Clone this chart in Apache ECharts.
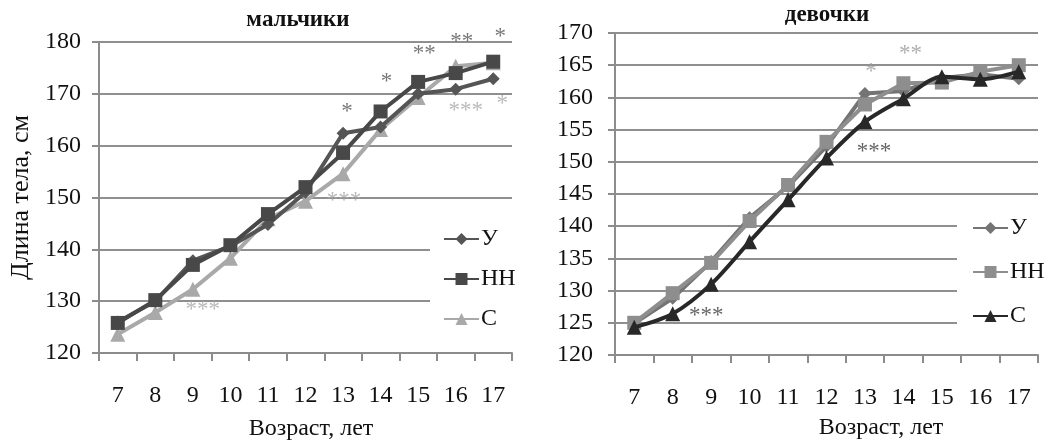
<!DOCTYPE html>
<html>
<head>
<meta charset="utf-8">
<script src="https://cdn.jsdelivr.net/npm/echarts@6/dist/echarts.min.js"></script>
<style>
html,body{margin:0;padding:0;background:#fff;}
#wrap{position:relative;width:1053px;height:446px;overflow:hidden;}
#boys{position:absolute;left:0;top:0;width:530px;height:446px;}
#girls{position:absolute;left:530px;top:0;width:523px;height:446px;}
</style>
</head>
<body>
<div id="wrap"><div id="boys"></div><div id="girls"></div></div>
<script>
// ---- data ----
const ages = ['7','8','9','10','11','12','13','14','15','16','17'];
const seriesNames = ['У','НН','С'];
const boysTitle = 'мальчики';
const girlsTitle = 'девочки';
const yTitle = 'Длина тела, см';
const xTitle = 'Возраст, лет';

const boysU  = [126.0, 130.0, 137.8, 140.6, 144.8, 151.0, 162.4, 163.6, 170.0, 170.9, 172.9];
const boysNN = [125.8, 130.2, 137.0, 140.8, 146.8, 152.0, 158.6, 166.6, 172.3, 174.0, 176.2];
const boysS  = [123.6, 127.8, 132.3, 138.3, 145.9, 149.3, 154.6, 163.1, 169.3, 175.3, 176.0];

const girlsU  = [124.9, 128.8, 134.5, 141.3, 146.2, 152.4, 160.6, 161.0, 163.0, 163.6, 162.9];
const girlsNN = [125.0, 129.6, 134.3, 140.8, 146.4, 153.1, 158.9, 162.2, 162.3, 164.0, 165.0];
const girlsS  = [124.3, 126.4, 131.0, 137.6, 144.1, 150.6, 156.2, 159.8, 163.2, 162.8, 164.0];

const boysYTicks  = {min:120, max:180, step:10};
const girlsYTicks = {min:120, max:170, step:5};

// significance marks: [age, value, text, tone]
const boysMarks = [
  ['13', 167.2, '*',   'dark'],
  ['14', 173.1, '*',   'dark'],
  ['15', 178.5, '**',  'dark'],
  ['16', 180.8, '**',  'dark'],
  ['17', 181.7, '*',   'dark'],
  ['16', 167.5, '***', 'light'],
  ['17', 168.9, '*',   'light'],
  ['13', 150.1, '***', 'light'],
  ['9',  129.0, '***', 'light']
];
const girlsMarks = [
  ['13', 164.6, '*',   'light'],
  ['14', 167.4, '**',  'light'],
  ['13', 152.1, '***', 'dark'],
  ['9',  126.7, '***', 'dark']
];

// ---- styles ----
const FONT = 'Liberation Serif';
const boysColors  = ['#555555', '#484848', '#a9a9a9'];
const girlsColors = ['#747474', '#8e8e8e', '#282828'];
const boysMarkColors  = {dark:'#555555', light:'#a8a8a8'};
const girlsMarkColors = {dark:'#3c3c3c', light:'#9a9a9a'};
const symbols = ['diamond', 'rect', 'triangle'];
const symbolSizes = [13, 14, 15];
const boysMarkDx  = [4, 6, 6, 6, 7, 10, 9, 1, 10];
const girlsMarkDx = [6, 7, 9, -5];

function buildOption(cfg) {
  const series = cfg.values.map((vals, i) => ({
    name: seriesNames[i],
    type: 'line',
    data: vals,
    symbol: symbols[i],
    symbolSize: symbolSizes[i],
    smooth: cfg.smooth[i],
    lineStyle: {color: cfg.colors[i], width: 4},
    itemStyle: {color: cfg.colors[i]},
    z: 3 + cfg.order[i]
  }));
  series.push({
    type: 'scatter',
    symbolSize: 0,
    z: 10,
    clip: false,
    silent: true,
    data: cfg.marks.map((m, k) => ({
      value: [ages.indexOf(m[0]), m[1]],
      label: {
        show: true,
        formatter: m[2],
        position: 'inside',
        color: cfg.markColors[m[3]],
        fontFamily: FONT,
        fontSize: 23,
        offset: [cfg.markDx[k], 4]
      }
    }))
  });
  return {
    animation: false,
    backgroundColor: '#ffffff',
    title: {
      text: cfg.title,
      left: cfg.titleX,
      top: cfg.titleY,
      textAlign: 'center',
      padding: 0,
      textStyle: {fontFamily: FONT, fontWeight: 'bold', fontSize: 23, color: '#111'}
    },
    legend: {
      orient: 'vertical',
      left: cfg.legend.left,
      top: cfg.legend.top,
      padding: cfg.legend.padding,
      itemGap: cfg.legend.gap,
      itemWidth: 35,
      itemHeight: 15,
      backgroundColor: '#ffffff',
      data: seriesNames,
      textStyle: {fontFamily: FONT, fontSize: 24, color: '#111', lineHeight: 24, padding: [0,0,0,-3]}
    },
    grid: {left: cfg.grid[0], top: cfg.grid[1], width: cfg.grid[2], height: cfg.grid[3]},
    xAxis: {
      type: 'category',
      data: ages,
      boundaryGap: true,
      name: xTitle,
      nameLocation: 'middle',
      nameGap: cfg.xNameGap,
      nameTextStyle: {fontFamily: FONT, fontSize: 24, color: '#111', padding: [0,0,0,cfg.xNameShift]},
      axisLine: {lineStyle: {color: '#8c8c8c', width: 2}},
      axisTick: {show: true, length: 8, lineStyle: {color: '#8c8c8c', width: 2}},
      axisLabel: {fontFamily: FONT, fontSize: 24, color: '#111', margin: 31},
      splitLine: {show: false}
    },
    yAxis: {
      type: 'value',
      min: cfg.yTicks.min,
      max: cfg.yTicks.max,
      interval: cfg.yTicks.step,
      name: cfg.yName,
      nameLocation: 'middle',
      nameGap: 63,
      nameRotate: 90,
      nameTextStyle: {fontFamily: FONT, fontSize: 26, color: '#111'},
      axisLine: {show: true, lineStyle: {color: '#8c8c8c', width: 2}},
      axisTick: {show: true, length: 7, lineStyle: {color: '#8c8c8c', width: 2}},
      axisLabel: {fontFamily: FONT, fontSize: 24, color: '#111', margin: cfg.yLabelMargin},
      splitLine: {show: true, lineStyle: {color: '#8f8f8f', width: 2}}
    },
    series: series
  };
}

const boysChart = echarts.init(document.getElementById('boys'), null, {renderer: 'canvas'});
boysChart.setOption(buildOption({
  title: boysTitle, titleX: 298, titleY: 9,
  values: [boysU, boysNN, boysS],
  colors: boysColors,
  smooth: [false, false, false],
  order: [1, 2, 0],
  marks: boysMarks, markColors: boysMarkColors, markDx: boysMarkDx,
  grid: [99, 42, 413, 313],
  yTicks: boysYTicks, yName: yTitle, yLabelMargin: 18,
  xNameGap: 64, xNameShift: 11,
  legend: {left: 430, top: 207, padding: [20, 10, 15, 13], gap: 16}
}));

const girlsChart = echarts.init(document.getElementById('girls'), null, {renderer: 'canvas'});
girlsChart.setOption(buildOption({
  title: girlsTitle, titleX: 297, titleY: 4,
  values: [girlsU, girlsNN, girlsS],
  colors: girlsColors,
  smooth: [false, false, 0.3],
  order: [0, 1, 2],
  marks: girlsMarks, markColors: girlsMarkColors, markDx: girlsMarkDx,
  grid: [85, 33, 423, 322],
  yTicks: girlsYTicks, yName: '', yLabelMargin: 22,
  xNameGap: 61, xNameShift: 109,
  legend: {left: 427, top: 201, padding: [15, 10, 15, 15], gap: 20}
}));
</script>
</body>
</html>
